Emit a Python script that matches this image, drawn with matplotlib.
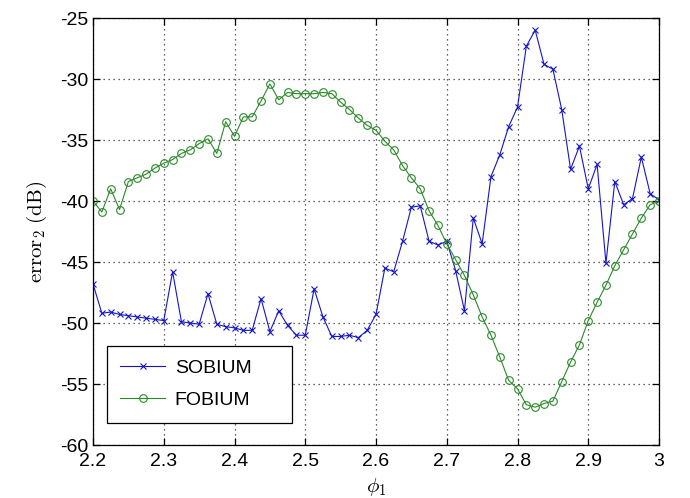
import numpy as np
import matplotlib
matplotlib.use('Agg')
import matplotlib.pyplot as plt

plt.rcParams['font.family'] = ['Liberation Sans', 'DejaVu Sans']
plt.rcParams['mathtext.fontset'] = 'cm'
plt.rcParams['axes.unicode_minus'] = False
plt.rcParams['font.size'] = 14

# phi_1 grid (0.0125 step)
phi = np.linspace(2.2, 3.0, 65)

sobium = [
    -46.8, -49.2, -49.1, -49.3, -49.4, -49.5, -49.6, -49.7, -49.8, -45.8,
    -49.9, -50.0, -50.1, -47.6, -50.1, -50.3, -50.4, -50.6, -50.6, -48.0,
    -50.7, -49.0, -50.2, -51.0, -51.0, -47.2, -49.5, -51.1, -51.1, -51.0,
    -51.2, -50.6, -49.3, -45.5, -45.8, -43.3, -40.5, -40.4, -43.3, -43.6,
    -43.3, -45.7, -49.0, -41.4, -43.5, -38.0, -36.2, -33.9, -32.3, -27.3,
    -26.0, -28.8, -29.2, -32.5, -37.4, -35.5, -39.0, -37.0, -45.1, -38.4,
    -40.3, -39.8, -36.4, -39.4, -39.9,
]

fobium = [
    -40.0, -40.9, -39.0, -40.7, -38.4, -38.1, -37.8, -37.3, -36.9, -36.6,
    -36.1, -35.8, -35.3, -34.9, -36.1, -33.5, -34.7, -33.1, -33.1, -31.8,
    -30.4, -31.7, -31.1, -31.2, -31.2, -31.2, -31.1, -31.2, -31.9, -32.5,
    -33.2, -33.8, -34.2, -35.1, -35.8, -37.1, -38.1, -39.0, -40.8, -42.0,
    -43.5, -44.8, -46.1, -47.7, -49.5, -51.0, -52.8, -54.7, -55.4, -56.7,
    -56.9, -56.6, -56.4, -54.8, -53.2, -51.8, -49.8, -48.3, -46.9, -45.3,
    -44.0, -42.7, -41.4, -40.3, -40.0,
]

fig = plt.figure(figsize=(6.9, 4.98), dpi=100)
ax = fig.add_axes([0.1348, 0.1064, 0.8203, 0.8574])

ax.plot(phi, sobium, '-x', color='#1515c8', lw=0.8, ms=4.5, mew=0.8, label='SOBIUM')
ax.plot(phi, fobium, '-o', color='#2a8a2a', lw=0.8, ms=5.5, mew=0.8,
        mfc='none', label='FOBIUM')

ax.set_xlim(2.2, 3.0)
ax.set_ylim(-60, -25)
ax.set_xticks(np.arange(2.2, 3.01, 0.1))
ax.set_xticklabels(['2.2', '2.3', '2.4', '2.5', '2.6', '2.7', '2.8', '2.9', '3'])
ax.set_yticks(np.arange(-60, -24, 5))

ax.grid(True, linestyle=(0, (1, 3)), color='#333333', lw=0.9)
ax.tick_params(direction='in', top=True, right=True, length=5, width=0.9)
ax.tick_params(axis='x', pad=6)
for s in ax.spines.values():
    s.set_linewidth(0.9)

ax.set_xlabel(r'$\phi_1$', fontsize=15)
ax.set_ylabel(r'$\mathrm{error}_2\ \mathrm{(dB)}$', fontsize=15, labelpad=8)

leg = ax.legend(loc='lower left', bbox_to_anchor=(0.024, 0.052, 0.327, 0.18),
                mode='expand', fancybox=False, edgecolor='black', framealpha=1,
                handlelength=2.3, handletextpad=0.5, borderaxespad=0,
                borderpad=0.7, labelspacing=0.75)
leg.get_frame().set_linewidth(0.9)

plt.savefig('out.png', dpi=100)
